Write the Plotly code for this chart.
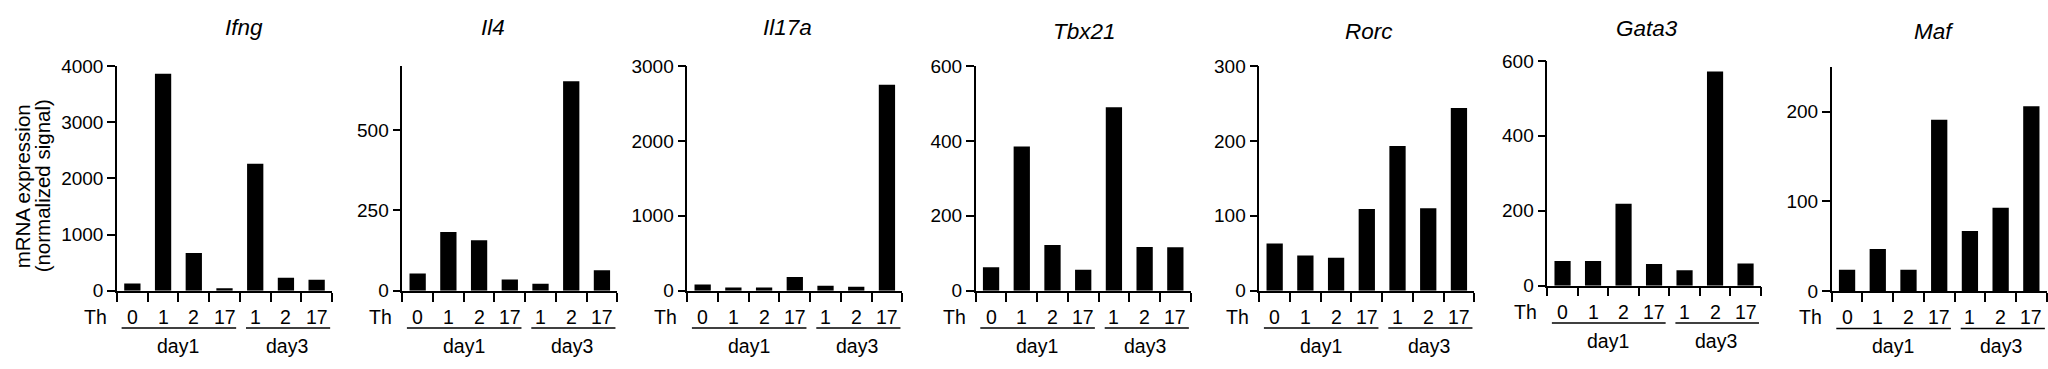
import plotly.graph_objects as go

# ---------------- data ----------------
genes = ["Ifng", "Il4", "Il17a", "Tbx21", "Rorc", "Gata3", "Maf"]
th_labels = ["0", "1", "2", "17", "1", "2", "17"]
day_labels = ["day1", "day3"]

ifng = [130, 3860, 670, 45, 2260, 230, 195]
il4 = [54, 183, 157, 35, 22, 652, 64]
il17a = [84, 43, 43, 185, 67, 55, 2750]
tbx21 = [63, 385, 122, 56, 490, 117, 116]
rorc = [63, 47, 44, 109, 193, 110, 244]
gata3 = [66, 66, 219, 58, 41, 572, 59]
maf = [24, 47, 24, 191, 67, 93, 206]

y_max = [4000, 700, 3000, 600, 300, 600, 250]
y_ticks = [
    [0, 1000, 2000, 3000, 4000],
    [0, 250, 500],
    [0, 1000, 2000, 3000],
    [0, 200, 400, 600],
    [0, 100, 200, 300],
    [0, 200, 400, 600],
    [0, 100, 200],
]
y_title = ["mRNA expression", "(normalized signal)"]

values = [ifng, il4, il17a, tbx21, rorc, gata3, maf]

# ---------------- layout (pixels) ----------------
W, H = 2048, 369
axis_left_px = [117, 402.3, 687.3, 975.7, 1259.3, 1547.3, 1831.7]
axis_width_px = [215, 215, 215, 215, 215, 213.5, 215]
zero_px = [297.7, 297.7, 297.7, 297.7, 297.7, 292.3, 298.3]
top_px = [59.3, 59.3, 59.3, 59.3, 59.3, 54.0, 60.0]
title_dx = [0.59, 0.424, 0.464, 0.508, 0.509, 0.469, 0.476]
title_py = [18.5, 18.5, 18.5, 22.5, 22.5, 19.5, 22.5]
groups = [(0.15, 3.88, 2.0), (4.2, 6.94, 5.52)]

FONT = "Liberation Sans, Arial, Helvetica, sans-serif"
BLACK = "#000000"
ncat = len(th_labels)
centers = [i + 0.5 for i in range(ncat)]

fig = go.Figure()
annotations = []
shapes = []

for k, (gene, vals) in enumerate(zip(genes, values)):
    n = k + 1
    xa = "x" if n == 1 else f"x{n}"
    ya = "y" if n == 1 else f"y{n}"
    fig.add_trace(go.Bar(
        x=centers, y=vals, width=0.53,
        marker=dict(color=BLACK, line=dict(width=0)),
        xaxis=xa, yaxis=ya, showlegend=False, hoverinfo="skip",
    ))
    x0 = axis_left_px[k] / W
    x1 = (axis_left_px[k] + axis_width_px[k]) / W
    y0 = 1 - zero_px[k] / H
    y1 = 1 - top_px[k] / H
    fig.layout[f"xaxis{'' if n == 1 else n}"] = dict(
        domain=[x0, x1], anchor=ya, range=[0, ncat],
        tickmode="array", tickvals=list(range(ncat + 1)),
        ticktext=[""] * (ncat + 1),
        ticks="outside", ticklen=9, tickwidth=1.5, tickcolor=BLACK,
        showline=True, linewidth=1.5, linecolor=BLACK,
        showgrid=False, zeroline=False, fixedrange=True,
    )
    fig.layout[f"yaxis{'' if n == 1 else n}"] = dict(
        domain=[y0, y1], anchor=xa, range=[0, y_max[k]],
        tickmode="array", tickvals=y_ticks[k], ticks="outside", ticklen=8,
        tickwidth=1.5, tickcolor=BLACK, showline=True, linewidth=1.5,
        linecolor=BLACK, showgrid=False, zeroline=False,
        tickfont=dict(family=FONT, size=19, color=BLACK), fixedrange=True,
    )
    # category labels
    for c, lab in zip(centers, th_labels):
        annotations.append(dict(
            x=c, y=0, xref=xa, yref=ya, text=lab, showarrow=False,
            yshift=-26, yanchor="middle", xanchor="center",
            font=dict(family=FONT, size=19.5, color=BLACK),
        ))
    annotations.append(dict(
        x=0, y=0, xref=xa, yref=ya, text="Th", showarrow=False,
        xshift=-8, yshift=-26, yanchor="middle", xanchor="right",
        font=dict(family=FONT, size=19.5, color=BLACK),
    ))
    # day groups
    yline = 1 - (zero_px[k] + 39.5) / H
    for (gx0, gx1, gc), lab in zip(groups, day_labels):
        shapes.append(dict(
            type="line", xref=f"{xa} domain", yref="paper",
            x0=gx0 / ncat, x1=gx1 / ncat, y0=yline, y1=yline,
            line=dict(color=BLACK, width=1.5),
        ))
        annotations.append(dict(
            x=gc, y=0, xref=xa, yref=ya, text=lab, showarrow=False,
            yshift=-55, yanchor="middle", xanchor="center",
            font=dict(family=FONT, size=19.5, color=BLACK),
        ))
    # title
    annotations.append(dict(
        x=title_dx[k], y=1 - title_py[k] / H, xref=f"{xa} domain", yref="paper",
        text=f"<i>{gene}</i>", showarrow=False, xanchor="center", yanchor="middle",
        font=dict(family=FONT, size=22.5, color=BLACK),
    ))

# y axis title (two lines)
for px, line in zip([22, 42], y_title):
    annotations.append(dict(
        x=px / W, y=1 - 187 / H, xref="paper", yref="paper", text=line,
        showarrow=False, textangle=-90, xanchor="center", yanchor="middle",
        font=dict(family=FONT, size=20.5, color=BLACK),
    ))

fig.update_layout(
    width=W, height=H, autosize=False, margin=dict(l=0, r=0, t=0, b=0, pad=0),
    paper_bgcolor="white", plot_bgcolor="white",
    annotations=annotations, shapes=shapes, showlegend=False,
    font=dict(family=FONT, color=BLACK),
)

fig.write_html(
    "out.html",
    config={"responsive": False, "displayModeBar": False},
    post_script="document.body.style.margin='0';document.body.style.overflow='hidden';",
)
